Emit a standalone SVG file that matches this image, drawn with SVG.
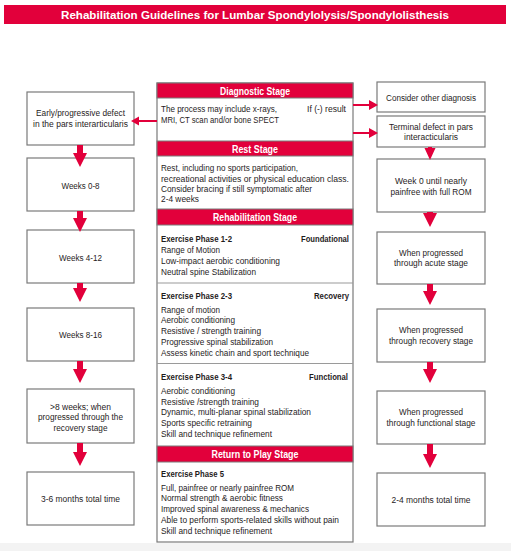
<svg xmlns="http://www.w3.org/2000/svg" width="511" height="551" viewBox="0 0 511 551">
<style>
text{font-family:"Liberation Sans",Arial,sans-serif;fill:#1f1c1d}
.t{font-size:11px;font-weight:bold;fill:#fff}
.h{font-size:10.5px;font-weight:bold;fill:#fff;text-anchor:middle}
.b{font-size:9px}
.bb{font-size:9px;font-weight:bold}
.s{font-size:8.5px;text-anchor:middle}
.box{fill:#fff;stroke:#7a7a7a;stroke-width:1.2}
.hdr{fill:#e2003b;stroke:#7a7a7a;stroke-width:1}
.sep{stroke:#9a9a9a;stroke-width:1.2}
.ar{fill:#e2003b}
</style>
<rect x="0" y="0" width="511" height="551" fill="#fff"/>
<rect x="0" y="543" width="511" height="8" fill="#f3f3f3"/>
<g id="title">
<rect x="4" y="5" width="502" height="19" fill="#e2003b"/>
<text class="t" x="255" y="19" text-anchor="middle" textLength="388" lengthAdjust="spacingAndGlyphs">Rehabilitation Guidelines for Lumbar Spondylolysis/Spondylolisthesis</text>
</g>
<g id="stages">
<rect class="box" x="157" y="83" width="196" height="459"/>
<g id="diagnostic">
<rect class="hdr" x="157" y="83" width="196" height="15"/>
<text class="h" x="255" y="95" textLength="70" lengthAdjust="spacingAndGlyphs">Diagnostic Stage</text>
<text class="b" x="161" y="112" textLength="116" lengthAdjust="spacingAndGlyphs">The process may include x-rays,</text>
<text class="b" x="161" y="122.5" textLength="118" lengthAdjust="spacingAndGlyphs">MRI, CT scan and/or bone SPECT</text>
<text class="b" x="346" y="112" text-anchor="end" textLength="39" lengthAdjust="spacingAndGlyphs">If (-) result</text>
</g>
<g id="rest">
<rect class="hdr" x="157" y="141" width="196" height="15"/>
<text class="h" x="255" y="152.5" textLength="46" lengthAdjust="spacingAndGlyphs">Rest Stage</text>
<text class="b" x="161" y="171" textLength="137" lengthAdjust="spacingAndGlyphs">Rest, including no sports participation,</text>
<text class="b" x="161" y="181.5" textLength="188" lengthAdjust="spacingAndGlyphs">recreational activities or physical education class.</text>
<text class="b" x="161" y="192" textLength="151" lengthAdjust="spacingAndGlyphs">Consider bracing if still symptomatic after</text>
<text class="b" x="161" y="202" textLength="38" lengthAdjust="spacingAndGlyphs">2-4 weeks</text>
</g>
<g id="rehab">
<rect class="hdr" x="157" y="209" width="196" height="16"/>
<text class="h" x="255" y="221" textLength="84" lengthAdjust="spacingAndGlyphs">Rehabilitation Stage</text>
<text class="bb" x="161" y="242" textLength="71" lengthAdjust="spacingAndGlyphs">Exercise Phase 1-2</text>
<text class="bb" x="349" y="242" text-anchor="end" textLength="48" lengthAdjust="spacingAndGlyphs">Foundational</text>
<text class="b" x="161" y="253" textLength="59" lengthAdjust="spacingAndGlyphs">Range of Motion</text>
<text class="b" x="161" y="264" textLength="119" lengthAdjust="spacingAndGlyphs">Low-impact aerobic conditioning</text>
<text class="b" x="161" y="275" textLength="95" lengthAdjust="spacingAndGlyphs">Neutral spine Stabilization</text>
<line class="sep" x1="157" y1="283" x2="353" y2="283"/>
<text class="bb" x="161" y="299" textLength="71" lengthAdjust="spacingAndGlyphs">Exercise Phase 2-3</text>
<text class="bb" x="349" y="299" text-anchor="end" textLength="35" lengthAdjust="spacingAndGlyphs">Recovery</text>
<text class="b" x="161" y="312.5" textLength="59" lengthAdjust="spacingAndGlyphs">Range of motion</text>
<text class="b" x="161" y="323" textLength="74" lengthAdjust="spacingAndGlyphs">Aerobic conditioning</text>
<text class="b" x="161" y="334" textLength="100" lengthAdjust="spacingAndGlyphs">Resistive / strength training</text>
<text class="b" x="161" y="345" textLength="112" lengthAdjust="spacingAndGlyphs">Progressive spinal stabilization</text>
<text class="b" x="161" y="356" textLength="148" lengthAdjust="spacingAndGlyphs">Assess kinetic chain and sport technique</text>
<line class="sep" x1="157" y1="363.5" x2="353" y2="363.5"/>
<text class="bb" x="161" y="380" textLength="71" lengthAdjust="spacingAndGlyphs">Exercise Phase 3-4</text>
<text class="bb" x="348" y="380" text-anchor="end" textLength="39" lengthAdjust="spacingAndGlyphs">Functional</text>
<text class="b" x="161" y="394" textLength="74" lengthAdjust="spacingAndGlyphs">Aerobic conditioning</text>
<text class="b" x="161" y="404.5" textLength="98" lengthAdjust="spacingAndGlyphs">Resistive /strength training</text>
<text class="b" x="161" y="415" textLength="150" lengthAdjust="spacingAndGlyphs">Dynamic, multi-planar spinal stabilization</text>
<text class="b" x="161" y="426" textLength="91" lengthAdjust="spacingAndGlyphs">Sports specific retraining</text>
<text class="b" x="161" y="437" textLength="111" lengthAdjust="spacingAndGlyphs">Skill and technique refinement</text>
</g>
<g id="return">
<rect class="hdr" x="157" y="446" width="196" height="16"/>
<text class="h" x="255" y="458" textLength="87" lengthAdjust="spacingAndGlyphs">Return to Play Stage</text>
<text class="bb" x="161" y="476.5" textLength="63" lengthAdjust="spacingAndGlyphs">Exercise Phase 5</text>
<text class="b" x="161" y="490.5" textLength="133" lengthAdjust="spacingAndGlyphs">Full, painfree or nearly painfree ROM</text>
<text class="b" x="161" y="501" textLength="122" lengthAdjust="spacingAndGlyphs">Normal strength &amp; aerobic fitness</text>
<text class="b" x="161" y="512" textLength="148" lengthAdjust="spacingAndGlyphs">Improved spinal awareness &amp; mechanics</text>
<text class="b" x="161" y="523" textLength="178" lengthAdjust="spacingAndGlyphs">Able to perform sports-related skills without pain</text>
<text class="b" x="161" y="534" textLength="111" lengthAdjust="spacingAndGlyphs">Skill and technique refinement</text>
</g>
</g>
<g id="left1"><rect class="box" x="27" y="92" width="107" height="53"/>
<text class="s" x="80.5" y="116" textLength="89" lengthAdjust="spacingAndGlyphs">Early/progressive defect</text>
<text class="s" x="80.5" y="127" textLength="95" lengthAdjust="spacingAndGlyphs">in the pars interarticularis</text></g>
<g id="left2"><rect class="box" x="27" y="158" width="107" height="53"/>
<text class="s" x="80.5" y="189" textLength="38" lengthAdjust="spacingAndGlyphs">Weeks 0-8</text></g>
<g id="left3"><rect class="box" x="27" y="230" width="107" height="53"/>
<text class="s" x="80.5" y="260.5" textLength="43" lengthAdjust="spacingAndGlyphs">Weeks 4-12</text></g>
<g id="left4"><rect class="box" x="27" y="308" width="107" height="53"/>
<text class="s" x="80.5" y="338" textLength="43" lengthAdjust="spacingAndGlyphs">Weeks 8-16</text></g>
<g id="left5"><rect class="box" x="27" y="389" width="107" height="54"/>
<text class="s" x="80.5" y="409.5" textLength="61" lengthAdjust="spacingAndGlyphs">&gt;8 weeks; when</text>
<text class="s" x="80.5" y="420" textLength="85" lengthAdjust="spacingAndGlyphs">progressed through the</text>
<text class="s" x="80.5" y="431" textLength="54" lengthAdjust="spacingAndGlyphs">recovery stage</text></g>
<g id="left6"><rect class="box" x="27" y="472" width="107" height="53"/>
<text class="s" x="80.5" y="502" textLength="79" lengthAdjust="spacingAndGlyphs">3-6 months total time</text></g>
<g id="right1"><rect class="box" x="377" y="82" width="108" height="30"/>
<text class="s" x="431" y="100.5" textLength="90" lengthAdjust="spacingAndGlyphs">Consider other diagnosis</text></g>
<g id="right2"><rect class="box" x="377" y="116" width="108" height="31"/>
<text class="s" x="431" y="129.5" textLength="84" lengthAdjust="spacingAndGlyphs">Terminal defect in pars</text>
<text class="s" x="431" y="140" textLength="54" lengthAdjust="spacingAndGlyphs">interacticularis</text></g>
<g id="right3"><rect class="box" x="377" y="159" width="108" height="53"/>
<text class="s" x="431" y="184" textLength="72" lengthAdjust="spacingAndGlyphs">Week 0 until nearly</text>
<text class="s" x="431" y="194.5" textLength="81" lengthAdjust="spacingAndGlyphs">painfree with full ROM</text></g>
<g id="right4"><rect class="box" x="377" y="232" width="108" height="52"/>
<text class="s" x="431" y="256" textLength="64" lengthAdjust="spacingAndGlyphs">When progressed</text>
<text class="s" x="431" y="266" textLength="74" lengthAdjust="spacingAndGlyphs">through acute stage</text></g>
<g id="right5"><rect class="box" x="377" y="309" width="108" height="53"/>
<text class="s" x="431" y="333" textLength="64" lengthAdjust="spacingAndGlyphs">When progressed</text>
<text class="s" x="431" y="344" textLength="84" lengthAdjust="spacingAndGlyphs">through recovery stage</text></g>
<g id="right6"><rect class="box" x="377" y="391" width="108" height="53"/>
<text class="s" x="431" y="414.5" textLength="64" lengthAdjust="spacingAndGlyphs">When progressed</text>
<text class="s" x="431" y="426" textLength="89" lengthAdjust="spacingAndGlyphs">through functional stage</text></g>
<g id="right7"><rect class="box" x="377" y="473" width="108" height="53"/>
<text class="s" x="431" y="503" textLength="79" lengthAdjust="spacingAndGlyphs">2-4 months total time</text></g>
<g id="connectors" class="ar">
<polygon class="ar" points="157,120 139,120 139,116.5 131,121 139,125.5 139,122 157,122"/>
<polygon class="ar" points="353,104 369,104 369,100 378,105 369,110 369,106 353,106"/>
<polygon class="ar" points="353,132 369,132 369,128 378,133 369,138 369,134 353,134"/>
<polygon class="ar" points="77,145 83,145 83,153 87,153 80,167 73,153 77,153"/>
<polygon class="ar" points="77,211 83,211 83,218 87,218 80,232 73,218 77,218"/>
<polygon class="ar" points="77,283 83,283 83,288 87,288 80,302 73,288 77,288"/>
<polygon class="ar" points="77,361 83,361 83,369 87,369 80,383 73,369 77,369"/>
<polygon class="ar" points="77,443 83,443 83,452 87,452 80,466 73,452 77,452"/>
<polygon class="ar" points="428,147 432,147 432,148 435.5,148 430,160 424.5,148 428,148"/>
<polygon class="ar" points="427,212 433,212 433,213 437,213 430,227 423,213 427,213"/>
<polygon class="ar" points="427,284 433,284 433,291 437,291 430,305 423,291 427,291"/>
<polygon class="ar" points="427,362 433,362 433,369 437,369 430,383 423,369 427,369"/>
<polygon class="ar" points="427,444 433,444 433,454 437,454 430,468 423,454 427,454"/>
</g>
</svg>
